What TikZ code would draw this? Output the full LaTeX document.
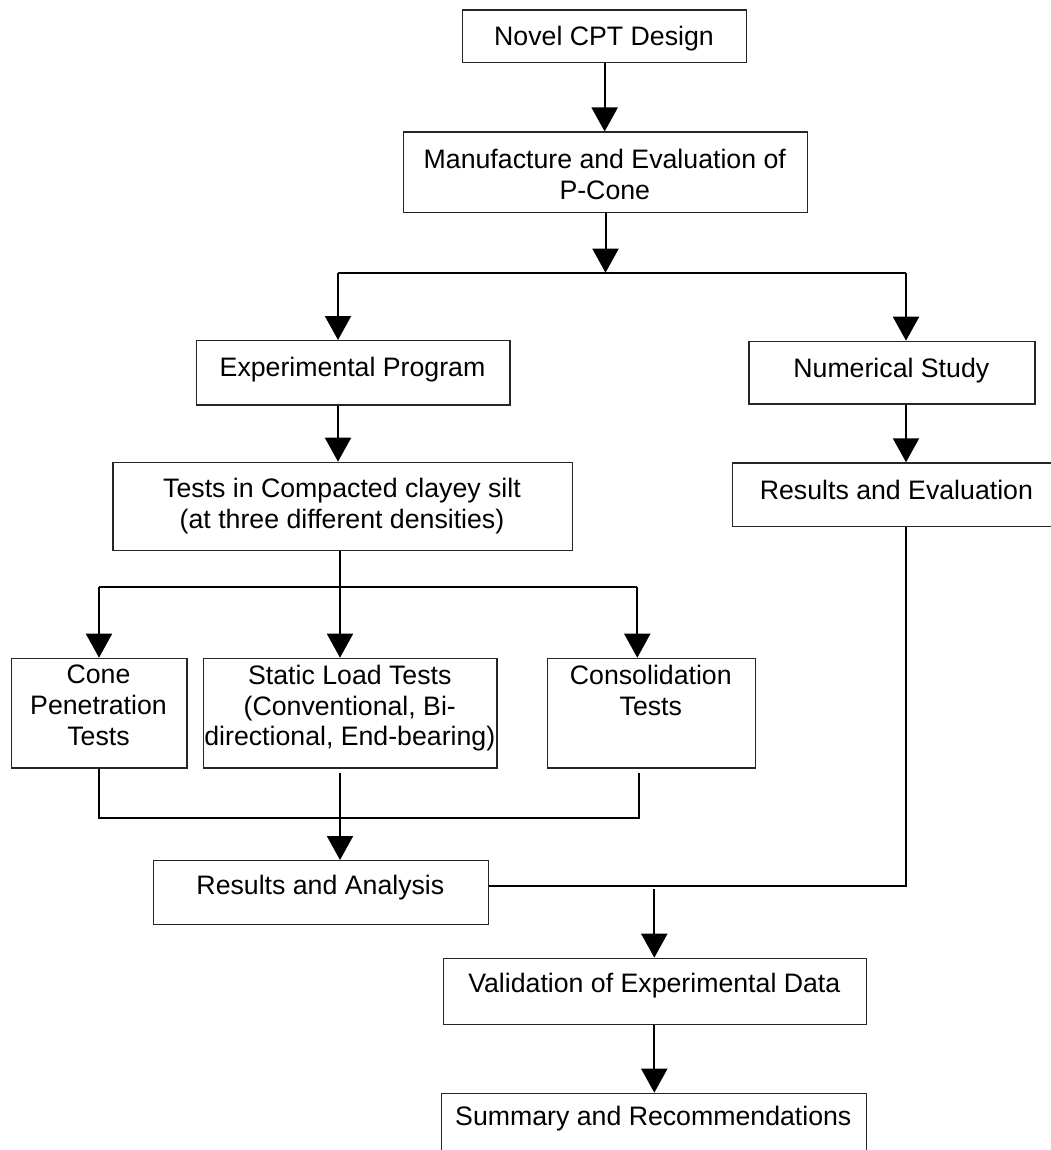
\documentclass[tikz,border=0pt]{standalone}
\usepackage{fontspec}
\setmainfont{Liberation Sans}
\usetikzlibrary{arrows.meta}
\begin{document}
\begin{tikzpicture}[x=1pt,y=-1pt,
  box/.style={draw=black!85, line width=1.3pt, rectangle, inner sep=0pt, anchor=north west},
  txt/.style={font=\fontsize{26.7}{30.7}\selectfont, align=center, inner sep=0pt, anchor=north},
  conn/.style={line width=2pt, line join=miter},
  arr/.style={conn, -{Triangle[length=24pt,width=26pt]}}]
\useasboundingbox (0,0) rectangle (1051,1150);
\clip (0,0) rectangle (1051,1150);

% boxes
\node[box, minimum width=284pt,   minimum height=52.5pt] (b1)  at (462,9.5) {};
\node[box, minimum width=404.3pt, minimum height=80.5pt] (b2)  at (402.7,131.5) {};
\node[box, minimum width=313.6pt, minimum height=64.3pt] (b3)  at (195.7,340) {};
\node[box, minimum width=286pt,   minimum height=62.6pt] (b4)  at (748.3,340.7) {};
\node[box, minimum width=459.4pt, minimum height=88.3pt] (b5)  at (112.3,461.7) {};
\node[box, minimum width=329.3pt, minimum height=63.4pt] (b6)  at (731.7,462.3) {};
\node[box, minimum width=175.5pt, minimum height=109.6pt] (b7) at (10.7,657.7) {};
\node[box, minimum width=293.3pt, minimum height=109.6pt] (b8) at (203.1,657.7) {};
\node[box, minimum width=208.3pt, minimum height=109.6pt] (b9) at (546.7,657.7) {};
\node[box, minimum width=335.2pt, minimum height=64pt]   (b10) at (152.8,860) {};
\node[box, minimum width=423.4pt, minimum height=66.3pt] (b11) at (442.6,957.7) {};
\node[box, minimum width=424.5pt, minimum height=80pt]   (b12) at (441,1092.7) {};

% texts
\node[txt] (t1)  at (604,25.5)    {Novel CPT Design};
\node[txt] (t2)  at (604.8,149)   {Manufacture and Evaluation of\\P-Cone};
\node[txt] (t3)  at (352.5,356.7) {Experimental Program};
\node[txt] (t4)  at (891.3,358)   {Numerical Study};
\node[txt] (t5)  at (342,478.3)   {Tests in Compacted clayey silt\\(at three different densities)};
\node[txt] (t6)  at (896.4,480)   {Results and Evaluation};
\node[txt] (t7)  at (98.5,665)    {Cone\\Penetration\\Tests};
\node[txt] (t8)  at (349.8,665)   {Static Load Tests\\(Conventional, Bi-\\directional, End-bearing)};
\node[txt] (t9)  at (650.8,665)   {Consolidation\\Tests};
\node[txt] (t10) at (320.4,875)   {Results and Analysis};
\node[txt] (t11) at (654.3,973.3) {Validation of Experimental Data};
\node[txt] (t12) at (653.3,1106)  {Summary and Recommendations};

% junction coordinates
\coordinate (jL) at (338,272.7);
\coordinate (jR) at (906,272.7);
\coordinate (kM) at (340,586.7);
\coordinate (kL) at (99,586.7);
\coordinate (kR) at (637.3,586.7);
\coordinate (mL) at (99,818.3);
\coordinate (mM) at (340,818.3);
\coordinate (mR) at (638.8,818.3);
\coordinate (nR) at (906,886);
\coordinate (vA) at (654.3,889);

% connectors
\draw[arr] (b1.south) -- (b1.south |- b2.north);
\draw[arr] (b2.south) -- (b2.south |- jL);
\draw[conn] (jL) -- (jR);
\draw[arr] (jL) -- (jL |- b3.north);
\draw[arr] (jR) -- (jR |- b4.north);
\draw[arr] (jL |- b3.south) -- (jL |- b5.north);
\draw[arr] (jR |- b4.south) -- (jR |- b6.north);

\draw[conn] (kM |- b5.south) -- (kM);
\draw[conn] (kL) -- (kR);
\draw[arr] (kL) -- (kL |- b7.north);
\draw[arr] (kM) -- (kM |- b8.north);
\draw[arr] (kR) -- (kR |- b9.north);

\draw[conn] (mL |- b7.south) -- (mL) -- (mR) -- ([yshift=-4pt]mR |- b9.south);
\draw[conn] ([yshift=-4pt]mM |- b8.south) -- (mM);
\draw[arr] (mM) -- (mM |- b10.north);

\draw[conn] (nR |- b6.south) -- (nR) -- (nR -| b10.east);
\draw[arr] (vA) -- (vA |- b11.north);
\draw[arr] (b11.south -| vA) -- (vA |- b12.north);
\end{tikzpicture}
\end{document}
